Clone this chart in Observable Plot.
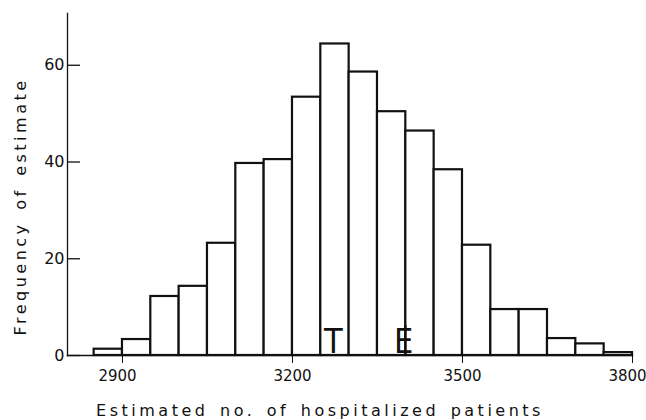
<!DOCTYPE html>
<html>
<head>
<meta charset="utf-8">
<script src="https://cdn.jsdelivr.net/npm/d3@7"></script>
<script src="https://cdn.jsdelivr.net/npm/@observablehq/plot@0.6"></script>
<style>
  html, body { margin: 0; padding: 0; background: #fff; }
  #chart { width: 646px; height: 420px; }
</style>
</head>
<body>
<div id="chart"></div>
<script>
// Histogram bins (lower edge, width 50) and frequencies
const binStarts = [2850, 2900, 2950, 3000, 3050, 3100, 3150, 3200, 3250, 3300, 3350, 3400, 3450, 3500, 3550, 3600, 3650, 3700, 3750];
const binWidth = 50;
const frequencies = [1.3, 3.3, 12.2, 14.3, 23.2, 39.7, 40.5, 53.4, 64.4, 58.6, 50.4, 46.4, 38.4, 22.8, 9.5, 9.5, 3.5, 2.4, 0.6];
const xTicksInner = [3200, 3500];
const xTicksOuter = [2900, 3800];
const yTicks = [0, 20, 40, 60];
const markerLabels = ["T", "E"];
const markerValues = [3272, 3396];
const xLabel = "Estimated no. of hospitalized patients";
const yLabel = "Frequency of estimate";

const bins = binStarts.map((x0, i) => ({x1: x0, x2: x0 + binWidth, y: frequencies[i]}));
const markers = markerLabels.map((t, i) => ({label: t, value: markerValues[i]}));

const chart = Plot.plot({
  width: 646,
  height: 420,
  marginLeft: 67,
  marginRight: 14,
  marginTop: 13,
  marginBottom: 65,
  x: {domain: [2803, 3800]},
  y: {domain: [0, 70.7]},
  style: {fontFamily: "DejaVu Sans, sans-serif", fontSize: "15px", color: "#111", background: "#fff"},
  marks: [
    Plot.rectY(bins, {x1: "x1", x2: "x2", y: "y", fill: "#fff", stroke: "#111", strokeWidth: 2.2}),
    Plot.frame({anchor: "bottom", stroke: "#111", strokeWidth: 1.5}),
    Plot.frame({anchor: "left", stroke: "#111", strokeWidth: 1.3}),
    Plot.axisX({ticks: xTicksInner, tickSize: 8, tickPadding: 7, tickFormat: d => String(d), label: null, fontSize: 15}),
    Plot.axisX({ticks: xTicksOuter, tickSize: 8, fill: "none", label: null}),
    Plot.axisX({ticks: xTicksOuter, tickSize: 0, tickPadding: 15, dx: -5, tickFormat: d => String(d), label: null, fontSize: 15}),
    Plot.axisY({ticks: yTicks, tickSize: 0, tickPadding: 3, label: null, fontSize: 16}),
    Plot.axisY({ticks: yTicks, tickSize: 13, dx: 13, fill: "none", label: null, strokeWidth: 1.3}),
    Plot.text(markers, {x: "value", y: 0, text: "label", lineAnchor: "bottom", dy: -3,
      fontSize: 34, fontFamily: "Liberation Sans Narrow, DejaVu Sans Condensed, sans-serif", fill: "#111"}),
    Plot.ruleX(markers.filter(d => d.label === "E"), {x: "value", y1: 0, y2: 6.2, dx: 2, stroke: "#111", strokeWidth: 2}),
    Plot.text([xLabel], {frameAnchor: "bottom", textAnchor: "middle", dx: -30, dy: 55, lineAnchor: "middle",
      fontSize: 16, fill: "#111"}),
    Plot.text([yLabel], {frameAnchor: "left", textAnchor: "middle", dx: -47, dy: 22, rotate: -90, lineAnchor: "middle",
      fontSize: 16, fill: "#111"})
  ]
});

// letter spacing for the axis titles
chart.querySelectorAll("text").forEach(t => {
  if (t.textContent === xLabel || t.textContent === yLabel) {
    t.style.letterSpacing = "3.5px";
    t.style.wordSpacing = "3px";
  }
});

document.getElementById("chart").appendChild(chart);
</script>
</body>
</html>
